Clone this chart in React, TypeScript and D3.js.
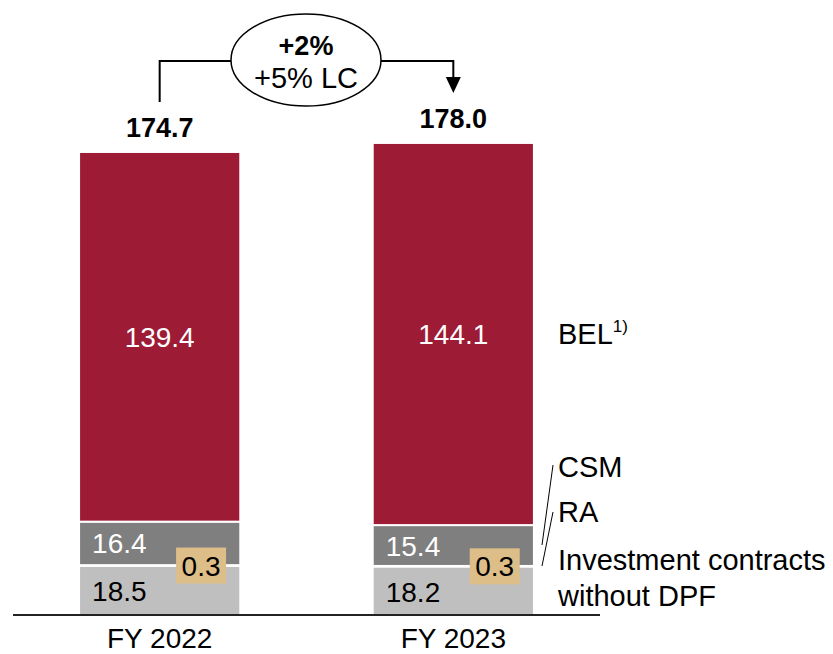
import React from "react";
import * as d3 from "d3";

const categories = ["FY 2022", "FY 2023"];
const investValues = [18.5, 18.2];
const raValues = [0.3, 0.3];
const csmValues = [16.4, 15.4];
const belValues = [139.4, 144.1];
const totalLabels = ["174.7", "178.0"];
const growthMain = "+2%";
const growthLC = "+5% LC";
const seriesKeys = ["invest", "ra", "csm", "bel"];

const W = 833;
const H = 654;
const FONT = "'Liberation Sans', Arial, Helvetica, sans-serif";
const COLORS: Record<string, string> = {
  invest: "#BFBFBF",
  ra: "#DDBE88",
  csm: "#7F7F7F",
  bel: "#9D1B35",
};

export default function App() {
  const rows = categories.map((c, i) => ({
    cat: c,
    invest: investValues[i],
    ra: raValues[i],
    csm: csmValues[i],
    bel: belValues[i],
  }));
  const stack = d3.stack<any>().keys(seriesKeys)(rows);

  const x = d3
    .scaleBand<string>()
    .domain(categories)
    .range([13, 600])
    .paddingInner(0.451)
    .paddingOuter(0.225);
  const y = d3.scaleLinear().domain([0, 100]).range([615, 615 - 265.2]);
  const bw = x.bandwidth();

  const seg = (key: string, i: number) => {
    const s = stack.find((d) => d.key === key)!;
    return s[i];
  };

  const cx0 = x(categories[0])! + bw / 2;
  const cx1 = x(categories[1])! + bw / 2;
  const topTot = (i: number) => seg("bel", i)[1];

  const ellCx = 306;
  const ellCy = 60;
  const ellRx = 75;
  const ellRy = 46;
  const connY = 61;

  return (
    <svg
      width={W}
      height={H}
      style={{ position: "absolute", left: 0, top: 0, background: "#fff" }}
      fontFamily={FONT}
    >
      {stack.map((s) =>
        s.map((d, i) => (
          <rect
            key={s.key + i}
            x={x(categories[i])}
            width={bw}
            y={y(d[1])}
            height={Math.max(0, y(d[0]) - y(d[1]))}
            fill={s.key === "ra" ? "#ffffff" : COLORS[s.key]}
            stroke="#ffffff"
            strokeWidth={s.key === "ra" ? 0 : 2}
          />
        ))
      )}
      <line x1={13} x2={600} y1={y(0)} y2={y(0)} stroke="#222" strokeWidth={2} />

      {categories.map((c, i) => {
        const bx = x(c)!;
        const cx = bx + bw / 2;
        const bel = seg("bel", i);
        const csm = seg("csm", i);
        const inv = seg("invest", i);
        const ra = seg("ra", i);
        const raMid = y((ra[0] + ra[1]) / 2);
        return (
          <g key={c}>
            <text
              x={cx}
              y={y((bel[0] + bel[1]) / 2) + 10}
              textAnchor="middle"
              fontSize={28}
              fill="#fff"
            >
              {belValues[i].toFixed(1)}
            </text>
            <text x={bx + 13} y={y((csm[0] + csm[1]) / 2) + 10} fontSize={28} fill="#fff">
              {csmValues[i].toFixed(1)}
            </text>
            <text x={bx + 13} y={y((inv[0] + inv[1]) / 2) + 11} fontSize={28} fill="#000">
              {investValues[i].toFixed(1)}
            </text>
            <rect x={bx + 97} y={raMid - 18} width={50} height={36} fill={COLORS.ra} />
            <text x={bx + 122} y={raMid + 10} textAnchor="middle" fontSize={28} fill="#000">
              {raValues[i].toFixed(1)}
            </text>
            <text
              x={cx}
              y={y(topTot(i)) - 15}
              textAnchor="middle"
              fontSize={27}
              fontWeight="bold"
              fill="#000"
            >
              {totalLabels[i]}
            </text>
            <text x={cx} y={648} textAnchor="middle" fontSize={28} fill="#000">
              {c}
            </text>
          </g>
        );
      })}

      <path
        d={`M${cx0},${y(topTot(0)) - 50} V${connY} H${ellCx - ellRx}`}
        fill="none"
        stroke="#000"
        strokeWidth={2}
      />
      <path
        d={`M${ellCx + ellRx},${connY} H${cx1} V${80}`}
        fill="none"
        stroke="#000"
        strokeWidth={2}
      />
      <path d={`M${cx1 - 7.5},77 L${cx1 + 7.5},77 L${cx1},93 Z`} fill="#000" />
      <ellipse cx={ellCx} cy={ellCy} rx={ellRx} ry={ellRy} fill="#fff" stroke="#000" strokeWidth={1.5} />
      <text x={ellCx} y={55} textAnchor="middle" fontSize={27} fontWeight="bold">
        {growthMain}
      </text>
      <text x={ellCx} y={88} textAnchor="middle" fontSize={29}>
        {growthLC}
      </text>

      <text x={558} y={344} fontSize={29}>
        BEL
        <tspan fontSize={17} dy={-12}>
          1)
        </tspan>
      </text>
      <text x={558} y={477} fontSize={29}>CSM</text>
      <text x={558} y={522} fontSize={29}>RA</text>
      <text x={558} y={570} fontSize={29}>Investment contracts</text>
      <text x={558} y={606} fontSize={29}>without DPF</text>
      <line x1={553} y1={465} x2={542} y2={545} stroke="#000" strokeWidth={1} />
      <line x1={553} y1={512} x2={542} y2={566} stroke="#000" strokeWidth={1} />
    </svg>
  );
}
